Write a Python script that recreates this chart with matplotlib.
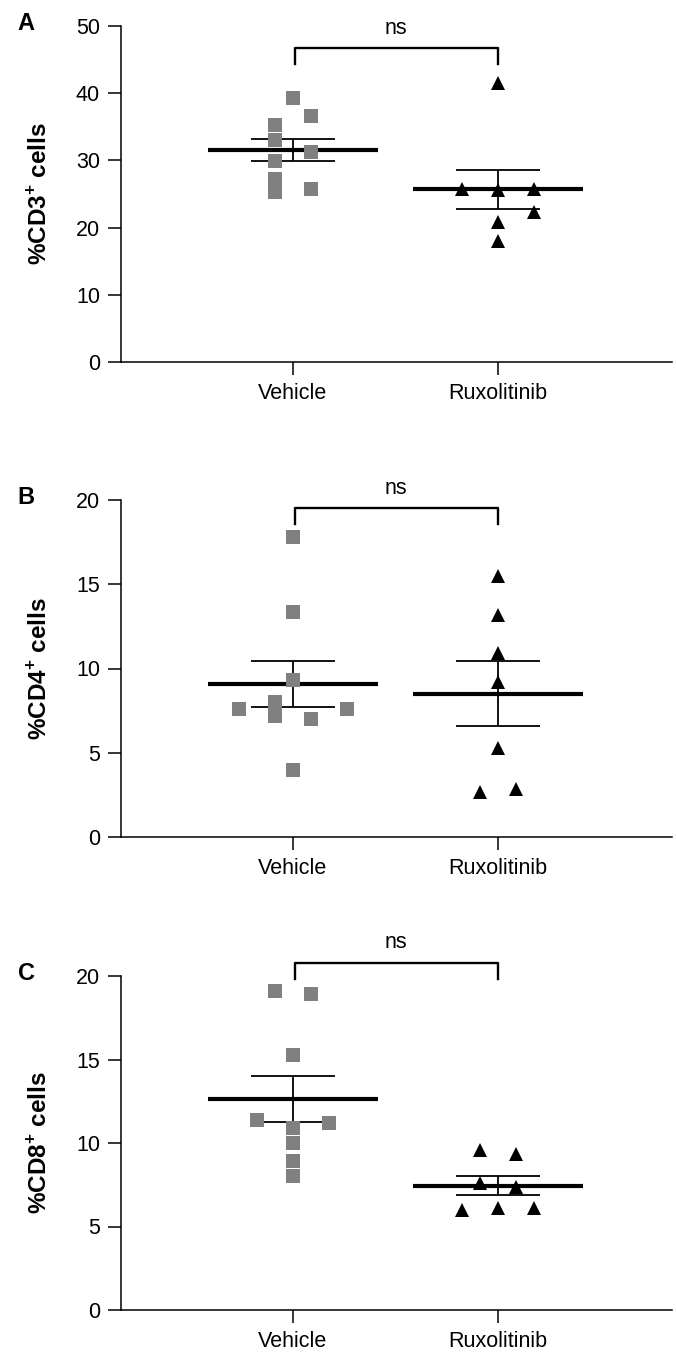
import numpy as np
import matplotlib.pyplot as plt

plt.rcParams['font.family'] = ['Liberation Sans', 'DejaVu Sans']
plt.rcParams['mathtext.fontset'] = 'custom'
plt.rcParams['mathtext.rm'] = 'Liberation Sans'
plt.rcParams['mathtext.bf'] = 'Liberation Sans:bold'

# data (% of cells per mouse)
groups = ['Vehicle', 'Ruxolitinib']
letters = ['A', 'B', 'C']
ylabels = [r'%CD3$^{\mathbf{+}}$ cells', r'%CD4$^{\mathbf{+}}$ cells', r'%CD8$^{\mathbf{+}}$ cells']
ymax = [50, 20, 20]
ystep = [10, 5, 5]

cd3_vehicle = [39.3, 36.6, 35.3, 33.0, 31.3, 29.9, 27.3, 25.3, 25.7]
cd3_rux = [41.5, 25.7, 25.6, 25.7, 22.3, 20.9, 18.0]
cd4_vehicle = [17.8, 13.35, 9.3, 7.6, 8.0, 7.2, 7.0, 7.6, 4.0]
cd4_rux = [15.5, 13.15, 10.9, 9.2, 5.3, 2.7, 2.85]
cd8_vehicle = [19.1, 18.9, 15.25, 11.35, 11.2, 10.9, 10.0, 8.95, 8.05]
cd8_rux = [9.6, 9.35, 7.6, 7.35, 6.0, 6.1, 6.1]

# horizontal scatter slots of each point (in jitter steps)
cd3_vehicle_slot = [0, 1, -1, -1, 1, -1, -1, -1, 1]
cd3_rux_slot = [0, -2, 0, 2, 2, 0, 0]
cd4_vehicle_slot = [0, 0, 0, -3, -1, -1, 1, 3, 0]
cd4_rux_slot = [0, 0, 0, 0, 0, -1, 1]
cd8_vehicle_slot = [-1, 1, 0, -2, 2, 0, 0, 0, 0]
cd8_rux_slot = [-1, 1, -1, 1, -2, 0, 2]

# significance bracket: bar height, leg bottom, label height
brackets = [(46.8, 44.4, 49.7), (19.5, 18.6, 20.7), (20.75, 19.85, 22.0)]
sig_text = ['ns', 'ns', 'ns']

panels = [
    (cd3_vehicle, cd3_rux, cd3_vehicle_slot, cd3_rux_slot),
    (cd4_vehicle, cd4_rux, cd4_vehicle_slot, cd4_rux_slot),
    (cd8_vehicle, cd8_rux, cd8_vehicle_slot, cd8_rux_slot),
]

W, H = 676, 1352
fig = plt.figure(figsize=(W / 100, H / 100), dpi=100)
# axes boxes in pixels: (top, bottom)
boxes = [(26, 362), (500, 837), (976, 1310)]
left, right = 121, 672
step = 0.0875

for i, (veh, rux, vslot, rslot) in enumerate(panels):
    top, bot = boxes[i]
    ax = fig.add_axes([left / W, 1 - bot / H, (right - left) / W, (bot - top) / H])
    for sp in ['top', 'right']:
        ax.spines[sp].set_visible(False)
    for sp in ['left', 'bottom']:
        ax.spines[sp].set_linewidth(1.1)

    for g, (vals, slots) in enumerate([(veh, vslot), (rux, rslot)]):
        vals = np.array(vals)
        x = g + np.array(slots) * step
        if g == 0:
            ax.plot(x, vals, 's', color='#808080', ms=10, mew=0, zorder=4, clip_on=False)
        else:
            ax.plot(x, vals, '^', color='black', ms=9.5, mew=0, zorder=4, clip_on=False)
        m = vals.mean()
        s = vals.std(ddof=1) / np.sqrt(len(vals))
        ax.hlines(m, g - 0.413, g + 0.413, color='black', lw=3.0, zorder=3)
        ax.hlines([m - s, m + s], g - 0.206, g + 0.206, color='black', lw=1.3, zorder=3)
        ax.vlines(g, m - s, m + s, color='black', lw=1.3, zorder=3)

    hi, lo, ty = brackets[i]
    ax.plot([0.01, 0.01, 1.0, 1.0], [lo, hi, hi, lo], color='black', lw=1.7, clip_on=False)
    ax.text(0.5, ty, sig_text[i], ha='center', va='center', fontsize=15.5)

    ax.set_xlim(-0.839, 1.849)
    ax.set_ylim(0, ymax[i])
    ax.set_xticks([0, 1])
    ax.set_xticklabels(groups)
    ax.set_yticks(np.arange(0, ymax[i] + 1, ystep[i]))
    ax.tick_params(direction='out', length=9.4, width=1.1, pad=5.8, labelsize=15.5)

    ax.text(-0.147, 0.5, ylabels[i], transform=ax.transAxes, rotation=90,
            ha='center', va='center', fontsize=17.5, fontweight='bold')
    ax.text(-0.172, 1.007, letters[i], transform=ax.transAxes,
            ha='center', va='center', fontsize=17, fontweight='bold')

fig.savefig('out.png', dpi=100)
